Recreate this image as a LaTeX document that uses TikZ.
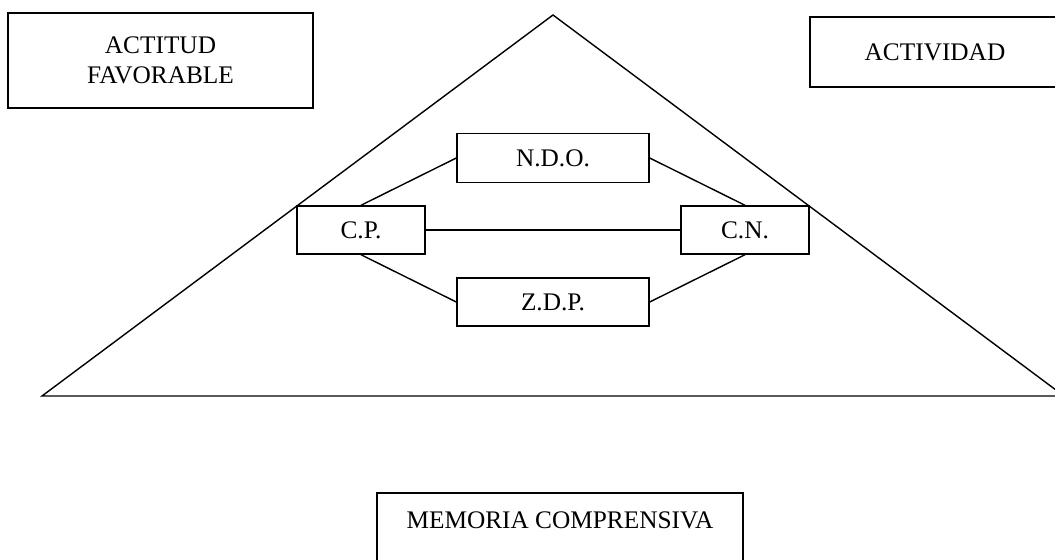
\documentclass[tikz,border=0pt]{standalone}
\usepackage{fontspec}
\setmainfont{Liberation Serif}
\begin{document}
\begin{tikzpicture}
    [x=0.025cm, y=-0.025cm,
    line width=1pt,
    caja/.style = {draw, rectangle, align=center,
                   font=\fontsize{18}{21}\selectfont},
    texto/.style = {align=center, font=\fontsize{18}{21}\selectfont}]
    \useasboundingbox (0,0) rectangle (1055,560);
    \clip (0,0) rectangle (1055,560);
    % Triangulo
    \draw (42,396) -- (553,15) -- (1064,396) -- cycle;
    % Cajas de arriba
    \node[caja, minimum width=7.625cm, minimum height=2.375cm] (actitud) at (160.5,60.5) {ACTITUD\\FAVORABLE};
    \node[caja, minimum width=6.25cm, minimum height=1.75cm] (actividad) at (935,52) {ACTIVIDAD};
    % Cajas del triangulo
    \node[caja, minimum width=4.8cm, minimum height=1.225cm] (NDO) at (553,158) {N.D.O.};
    \node[caja, minimum width=3.2cm, minimum height=1.2cm] (CP) at (361,230) {C.P.};
    \node[caja, minimum width=3.2cm, minimum height=1.2cm] (CN) at (745,230) {C.N.};
    \node[caja, minimum width=4.8cm, minimum height=1.2cm] (ZDP) at (553,302) {Z.D.P.};
    % Uniones
    \draw (CP.north) -- (NDO.west);
    \draw (NDO.east) -- (CN.north);
    \draw (CP.east) -- (CN.west);
    \draw (CP.south) -- (ZDP.west);
    \draw (CN.south) -- (ZDP.east);
    % Memoria comprensiva
    \draw (377,493) rectangle (743,600);
    \node[texto] (memoria) at (560,520) {MEMORIA COMPRENSIVA};
\end{tikzpicture}
\end{document}
